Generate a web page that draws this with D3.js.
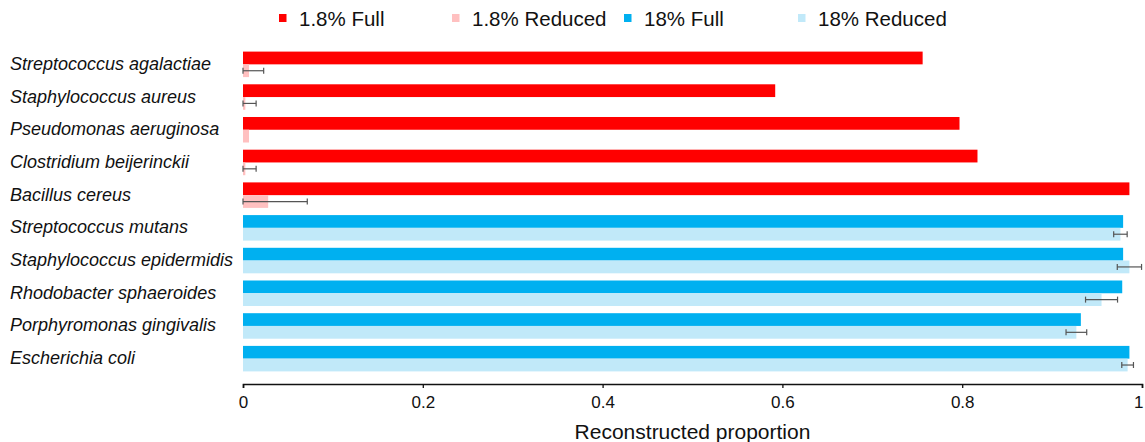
<!DOCTYPE html>
<html>
<head>
<meta charset="utf-8">
<script src="https://cdn.jsdelivr.net/npm/d3@7"></script>
<style>
  html, body { margin: 0; padding: 0; background: #fff; }
  svg { display: block; font-family: "Liberation Sans", Arial, Helvetica, sans-serif; }
</style>
</head>
<body>
<svg id="chart" width="1145" height="442"></svg>
<script>
// Species, top to bottom
const species = [
  "Streptococcus agalactiae",
  "Staphylococcus aureus",
  "Pseudomonas aeruginosa",
  "Clostridium beijerinckii",
  "Bacillus cereus",
  "Streptococcus mutans",
  "Staphylococcus epidermidis",
  "Rhodobacter sphaeroides",
  "Porphyromonas gingivalis",
  "Escherichia coli"
];
// GC group of each species (1.8% or 18%)
const group = ["1.8", "1.8", "1.8", "1.8", "1.8", "18", "18", "18", "18", "18"];

// Reconstructed proportion with the full marker set
const fullValues = [0.756, 0.592, 0.797, 0.817, 0.986, 0.979, 0.979, 0.978, 0.932, 0.986];
// Reconstructed proportion with the reduced marker set, and its error
const reducedValues = [0.0067, 0.0026, 0.0067, 0.0026, 0.028, 0.976, 0.986, 0.955, 0.927, 0.984];
const reducedErrors = [0.0163, 0.012, 0, 0.012, 0.0435, 0.0075, 0.0135, 0.0178, 0.0115, 0.0065];

const xTicks = [0, 0.2, 0.4, 0.6, 0.8, 1];
const legendLabels = ["1.8% Full", "1.8% Reduced", "18% Full", "18% Reduced"];

const colors = {
  "1.8": { full: "#ff0000", reduced: "#ffc0c0" },
  "18": { full: "#00b0f0", reduced: "#c1e9f9" }
};
const legendColors = ["#ff0000", "#ffc0c0", "#00b0f0", "#c1e9f9"];

const svg = d3.select("#chart");

const x = d3.scaleLinear().domain([0, 1]).range([243, 1142]);
const y = d3.scaleBand().domain(species).range([48, 375]).paddingInner(0.22).paddingOuter(0.11);
const half = y.bandwidth() / 2;

const rows = species.map((s, i) => ({
  name: s,
  g: group[i],
  full: fullValues[i],
  reduced: reducedValues[i],
  err: reducedErrors[i]
}));

// Full-set bars
svg.append("g").selectAll("rect").data(rows).join("rect")
  .attr("x", x(0))
  .attr("y", d => y(d.name))
  .attr("width", d => x(d.full) - x(0))
  .attr("height", half)
  .attr("fill", d => colors[d.g].full);

// Reduced-set bars
svg.append("g").selectAll("rect").data(rows).join("rect")
  .attr("x", x(0))
  .attr("y", d => y(d.name) + half)
  .attr("width", d => x(d.reduced) - x(0))
  .attr("height", half)
  .attr("fill", d => colors[d.g].reduced);

// Error bars on the reduced-set bars
const eb = svg.append("g")
  .attr("stroke", "#555")
  .attr("stroke-width", 1.2)
  .attr("fill", "none")
  .selectAll("g").data(rows.filter(d => d.err > 0)).join("g");
const ebY = d => y(d.name) + half * 1.5;
const lo = d => x(Math.max(0, d.reduced - d.err));
const hi = d => x(Math.min(1.02, d.reduced + d.err));
eb.append("line").attr("x1", lo).attr("x2", hi).attr("y1", ebY).attr("y2", ebY);
eb.append("line").attr("x1", lo).attr("x2", lo).attr("y1", d => ebY(d) - 3).attr("y2", d => ebY(d) + 3);
eb.append("line").attr("x1", hi).attr("x2", hi).attr("y1", d => ebY(d) - 3).attr("y2", d => ebY(d) + 3);

// Species labels
svg.append("g").selectAll("text").data(rows).join("text")
  .attr("x", 10)
  .attr("y", d => y(d.name) + half + 5.5)
  .attr("font-size", 18)
  .attr("font-style", "italic")
  .attr("fill", "#111")
  .text(d => d.name);

// X axis
const xAxis = d3.axisBottom(x)
  .tickValues(xTicks)
  .tickFormat(d => d3.format("~g")(d))
  .tickSize(4)
  .tickSizeOuter(4);
const ax = svg.append("g").attr("transform", "translate(0,384)").call(xAxis);
ax.select(".domain").attr("stroke", "#111").attr("stroke-width", 1.6);
ax.selectAll(".tick line").attr("stroke", "#111").attr("stroke-width", 1.3);
ax.selectAll(".tick text")
  .attr("font-family", "'Liberation Sans', Arial, sans-serif")
  .attr("font-size", 17)
  .attr("fill", "#111")
  .attr("dy", "1.0em");
// the last tick label sits right at the page edge; keep it inside
ax.selectAll(".tick text").filter(d => d === 1).attr("text-anchor", "end").attr("dx", 1);

svg.append("text")
  .attr("x", (x(0) + x(1)) / 2)
  .attr("y", 439)
  .attr("text-anchor", "middle")
  .attr("font-size", 21)
  .attr("fill", "#111")
  .text("Reconstructed proportion");

// Legend
const legendX = [279, 452, 624, 798];
const lg = svg.append("g").selectAll("g").data(legendLabels).join("g")
  .attr("transform", (d, i) => `translate(${legendX[i]},0)`);
lg.append("rect").attr("x", 0).attr("y", 14).attr("width", 7.5).attr("height", 8)
  .attr("fill", (d, i) => legendColors[i]);
lg.append("text").attr("x", 20).attr("y", 26).attr("font-size", 20.5).attr("fill", "#111")
  .text(d => d);
</script>
</body>
</html>
